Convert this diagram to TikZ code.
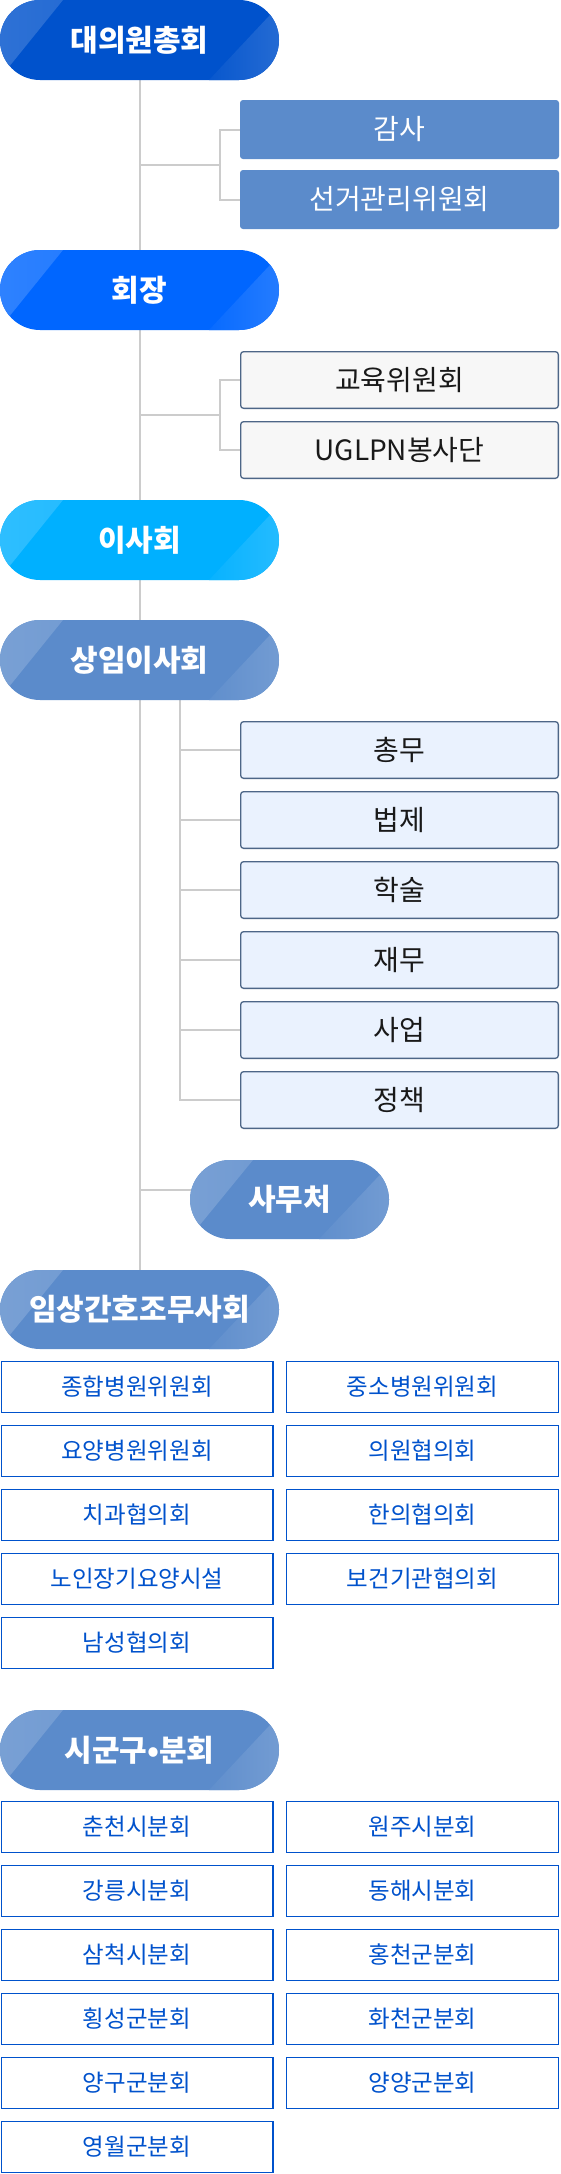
\documentclass[tikz,border=0pt]{standalone}
\usepackage{fontspec}
\setmainfont{Noto Sans CJK KR}
\usetikzlibrary{positioning,backgrounds}

\definecolor{navy}{HTML}{0052CC}
\definecolor{royal}{HTML}{0066FF}
\definecolor{sky}{HTML}{00B0FF}
\definecolor{steel}{HTML}{5B8BCB}
\definecolor{slate}{HTML}{4D6687}
\definecolor{paleblue}{HTML}{EAF2FE}
\definecolor{paper}{HTML}{F7F7F7}
\definecolor{wire}{HTML}{CCCCCC}

\tikzset{
  pill/.style={fill=#1, rounded corners=40pt, minimum width=279pt,
    minimum height=80pt, inner sep=0pt, text=white,
    font=\bfseries\fontsize{30}{34}\selectfont,
    path picture={
      \shade[sharp corners, left color=#1!82!white, right color=#1!96!white]
        (path picture bounding box.north west)
        -- ([xshift=63pt]path picture bounding box.north west)
        -- ([yshift=2pt]path picture bounding box.south west) -- cycle;
      \shade[sharp corners, left color=#1!97!white, right color=#1!85!white]
        ([xshift=5pt]path picture bounding box.north east)
        -- ([xshift=-70pt]path picture bounding box.south east)
        -- (path picture bounding box.south east) -- cycle;
    }},
  sidebox/.style={fill=steel, rounded corners=3pt, minimum width=319pt,
    minimum height=59pt, inner sep=0pt, text=white,
    font=\fontsize{28}{32}\selectfont},
  greybox/.style={draw=slate, line width=1.3pt, fill=paper, rounded corners=3pt,
    minimum width=317.7pt, minimum height=56.7pt, inner sep=0pt,
    text=black!90, font=\fontsize{28}{32}\selectfont},
  bluebox/.style={greybox, fill=paleblue},
  cell/.style={draw=navy, line width=1.3pt, fill=white, minimum width=271.7pt,
    minimum height=50.7pt, inner sep=0pt, text=navy,
    font=\fontsize{23.5}{27}\selectfont},
  wire/.style={draw=wire, line width=2pt}
}

\begin{document}
\begin{tikzpicture}[x=1pt,y=-1pt]
  \useasboundingbox (0,0) rectangle (560,2174);
  % top
  \node[pill=navy] (assembly) at (139.5,40) {대의원총회};
  \node[sidebox] (audit) at (399.5,129.5) {감사};
  \node[sidebox] (election) at (399.5,199.5) {선거관리위원회};
  \node[pill=royal] (chair) at (139.5,290) {회장};
  \node[greybox] (edu) at (399.5,380) {교육위원회};
  \node[greybox] (volunteer) at (399.5,450) {UGLPN봉사단};
  \node[pill=sky] (board) at (139.5,540) {이사회};
  \node[pill=steel] (standing) at (139.5,660) {상임이사회};
  % standing board
  \node[bluebox] (affairs) at (399.5,750) {총무};
  \node[bluebox] (law) at (399.5,820) {법제};
  \node[bluebox] (academic) at (399.5,890) {학술};
  \node[bluebox] (finance) at (399.5,960) {재무};
  \node[bluebox] (business) at (399.5,1030) {사업};
  \node[bluebox] (policy) at (399.5,1100) {정책};
  \node[pill=steel, minimum width=199pt, minimum height=79pt] (office) at (289.5,1199.5) {사무처};
  % clinical
  \node[pill=steel, minimum height=79pt] (clinic) at (139.5,1309.5) {임상간호조무사회};
  \node[cell] (c1) at (137,1387) {종합병원위원회};
  \node[cell] (c2) at (422.5,1387) {중소병원위원회};
  \node[cell] (c3) at (137,1451) {요양병원위원회};
  \node[cell] (c4) at (422.5,1451) {의원협의회};
  \node[cell] (c5) at (137,1515) {치과협의회};
  \node[cell] (c6) at (422.5,1515) {한의협의회};
  \node[cell] (c7) at (137,1579) {노인장기요양시설};
  \node[cell] (c8) at (422.5,1579) {보건기관협의회};
  \node[cell] (c9) at (137,1643) {남성협의회};
  % branches
  \node[pill=steel] (branch) at (139.5,1750) {시군구•분회};
  \node[cell] (b1) at (137,1827) {춘천시분회};
  \node[cell] (b2) at (422.5,1827) {원주시분회};
  \node[cell] (b3) at (137,1891) {강릉시분회};
  \node[cell] (b4) at (422.5,1891) {동해시분회};
  \node[cell] (b5) at (137,1955) {삼척시분회};
  \node[cell] (b6) at (422.5,1955) {홍천군분회};
  \node[cell] (b7) at (137,2019) {횡성군분회};
  \node[cell] (b8) at (422.5,2019) {화천군분회};
  \node[cell] (b9) at (137,2083) {양구군분회};
  \node[cell] (b10) at (422.5,2083) {양양군분회};
  \node[cell] (b11) at (137,2147) {영월군분회};

  \begin{scope}[on background layer]
    \path (139.5,164.5) coordinate (j1); \path (220,164.5) coordinate (k1);
    \path (139.5,415) coordinate (j2); \path (220,415) coordinate (k2);
    \path (180,700) coordinate (s0);
    \path (139.5,1190) coordinate (j3);
    \draw[wire] (assembly.south) -- (clinic.north);
    \draw[wire] (j1) -- (k1);
    \draw[wire] (audit.west) -| (k1) |- (election.west);
    \draw[wire] (j2) -- (k2);
    \draw[wire] (edu.west) -| (k2) |- (volunteer.west);
    \draw[wire] (s0) |- (policy.west);
    \draw[wire] (s0 |- affairs.west) -- (affairs.west);
    \draw[wire] (s0 |- law.west) -- (law.west);
    \draw[wire] (s0 |- academic.west) -- (academic.west);
    \draw[wire] (s0 |- finance.west) -- (finance.west);
    \draw[wire] (s0 |- business.west) -- (business.west);
    \draw[wire] (j3) -- ([shift={(10pt,9.5pt)}]office.west);
  \end{scope}
\end{tikzpicture}
\end{document}
